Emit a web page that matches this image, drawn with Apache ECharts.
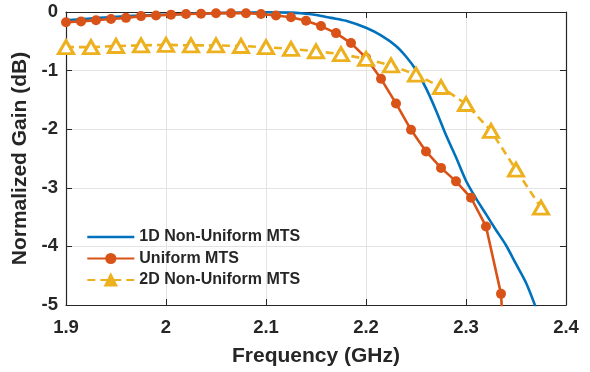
<!DOCTYPE html>
<html>
<head>
<meta charset="utf-8">
<script src="https://cdn.jsdelivr.net/npm/echarts@6/dist/echarts.min.js"></script>
<style>html,body{margin:0;padding:0;background:#fff;}#c{width:590px;height:372px;}</style>
</head>
<body>
<div id="c"></div>
<script>
// Frequencies (GHz) and normalized gains (dB)
const blueFreq = [1.9,1.925,1.95,1.975,2.0,2.025,2.05,2.075,2.1,2.125,2.135,2.15,2.165,2.18,2.2,2.215,2.23,2.24,2.25,2.26,2.27,2.28,2.29,2.3,2.31,2.32,2.33,2.34,2.35,2.36,2.37];
const blueGain = [-0.14,-0.11,-0.08,-0.06,-0.045,-0.03,-0.02,-0.01,-0.005,-0.01,-0.02,-0.05,-0.10,-0.15,-0.27,-0.40,-0.58,-0.76,-0.99,-1.30,-1.68,-2.10,-2.48,-2.88,-3.18,-3.45,-3.72,-3.98,-4.30,-4.62,-5.05];

const uniFreq = [1.9,1.915,1.93,1.945,1.96,1.975,1.99,2.005,2.02,2.035,2.05,2.065,2.08,2.095,2.11,2.125,2.14,2.155,2.17,2.185,2.2,2.215,2.23,2.245,2.26,2.275,2.29,2.305,2.32,2.335,2.35];
const uniGain = [-0.175,-0.16,-0.14,-0.12,-0.10,-0.07,-0.06,-0.045,-0.035,-0.03,-0.02,-0.02,-0.02,-0.035,-0.06,-0.09,-0.15,-0.24,-0.36,-0.53,-0.78,-1.14,-1.56,-2.01,-2.38,-2.66,-2.89,-3.17,-3.66,-4.81,-9.1];

const twoFreq = [1.9,1.925,1.95,1.975,2.0,2.025,2.05,2.075,2.1,2.125,2.15,2.175,2.2,2.225,2.25,2.275,2.3,2.325,2.35,2.375];
const twoGain = [-0.6,-0.6,-0.58,-0.57,-0.56,-0.57,-0.57,-0.58,-0.6,-0.63,-0.67,-0.72,-0.80,-0.91,-1.07,-1.28,-1.57,-2.03,-2.69,-3.34];

const xTicks = [1.9,2.0,2.1,2.2,2.3,2.4];
const yTicks = [0,-1,-2,-3,-4,-5];
const seriesNames = ['1D Non-Uniform MTS','Uniform MTS','2D Non-Uniform MTS'];

const zip = (a,b) => a.map((v,i)=>[v,b[i]]);
const FONT = 'Arial, "Liberation Sans", sans-serif';
const axisColor = '#262626';
const C_BLUE = '#0072BD', C_RED = '#D95319', C_YEL = '#EDB120';

const chart = echarts.init(document.getElementById('c'), null, {renderer:'canvas'});
const baseX = {
  type:'value', min:xTicks[0], max:xTicks[xTicks.length-1], interval:0.1,
  axisLine:{show:true, onZero:false, lineStyle:{color:axisColor,width:1.2}},
  axisTick:{show:true, inside:true, length:6, lineStyle:{color:axisColor}},
};
const baseY = {
  type:'value', min:yTicks[yTicks.length-1], max:yTicks[0], interval:1,
  axisLine:{show:true, onZero:false, lineStyle:{color:axisColor,width:1.2}},
  axisTick:{show:true, inside:true, length:6, lineStyle:{color:axisColor}},
};
const fmt = v => String(parseFloat(v.toFixed(2)));
chart.setOption({
  animation:false,
  backgroundColor:'#fff',
  grid:{left:66, right:24, top:12, bottom:65, containLabel:false},
  legend:{
    orient:'vertical', left:81, top:224, itemWidth:47, itemHeight:14, itemGap:5.5,
    textStyle:{fontFamily:FONT, fontWeight:'bold', fontSize:16, color:'#262626', lineHeight:16},
    data:[
      {name:seriesNames[0], itemStyle:{opacity:0}, lineStyle:{color:C_BLUE, width:2.6, opacity:1}},
      {name:seriesNames[1]},
      {name:seriesNames[2], itemStyle:{color:C_YEL, borderColor:C_YEL, borderWidth:2}}
    ]
  },
  xAxis:[
    Object.assign({}, baseX, {
      position:'bottom',
      name:'Frequency (GHz)', nameLocation:'middle', nameGap:41,
      nameTextStyle:{fontFamily:FONT, fontWeight:'bold', fontSize:21, color:'#262626'},
      axisLabel:{show:true, margin:13, fontFamily:FONT, fontWeight:'bold', fontSize:18.5, color:'#262626', formatter:fmt},
      splitLine:{show:true, lineStyle:{color:'#e3e3e3', width:1}}
    }),
    Object.assign({}, baseX, {position:'top', axisLabel:{show:false}, splitLine:{show:false}})
  ],
  yAxis:[
    Object.assign({}, baseY, {
      position:'left',
      name:'Normalized Gain (dB)', nameLocation:'middle', nameGap:30, nameRotate:90,
      nameTextStyle:{fontFamily:FONT, fontWeight:'bold', fontSize:21, color:'#262626'},
      axisLabel:{show:true, margin:8, fontFamily:FONT, fontWeight:'bold', fontSize:18.5, color:'#262626', formatter:fmt},
      splitLine:{show:true, lineStyle:{color:'#e3e3e3', width:1}}
    }),
    Object.assign({}, baseY, {position:'right', axisLabel:{show:false}, splitLine:{show:false}})
  ],
  series:[
    {
      name:seriesNames[0], type:'line', data:zip(blueFreq,blueGain), smooth:0.3,
      symbol:'none', clip:true, z:2,
      lineStyle:{color:C_BLUE, width:2.6},
      itemStyle:{color:C_BLUE}
    },
    {
      name:seriesNames[1], type:'line', data:zip(uniFreq,uniGain),
      symbol:'circle', symbolSize:10, clip:true, z:3,
      lineStyle:{color:C_RED, width:2.6},
      itemStyle:{color:C_RED, borderColor:C_RED, borderWidth:0}
    },
    {
      name:seriesNames[2], type:'line', data:zip(twoFreq,twoGain),
      symbol:'triangle', symbolSize:[15,13], clip:true, z:4,
      lineStyle:{color:C_YEL, width:2.6, type:[8,5]},
      itemStyle:{color:'#ffffff', borderColor:C_YEL, borderWidth:3}
    }
  ]
});
</script>
</body>
</html>
